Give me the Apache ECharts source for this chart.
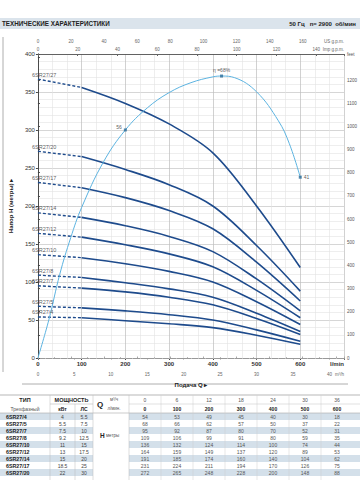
<!DOCTYPE html>
<html><head><meta charset="utf-8">
<script src="https://cdn.jsdelivr.net/npm/echarts@6/dist/echarts.min.js"></script>
<style>html,body{margin:0;padding:0;background:#fff}#c{width:360px;height:480px}</style>
</head><body><div id="c"></div>
<script>
// ---------- DATA ----------
const flowLpm = [0, 100, 200, 300, 400, 500, 600];
const flowM3h = [0, 6, 12, 18, 24, 30, 36];
const models  = ['6SR27/4','6SR27/5','6SR27/7','6SR27/8','6SR27/10','6SR27/12','6SR27/14','6SR27/17','6SR27/20','6SR27/27'];
const powerKw = ['4','5.5','7.5','9.2','11','13','15','18.5','22','30'];
const powerHp = ['5.5','7.5','10','12.5','15','17.5','20','25','30','40'];
const head4  = [54, 53, 49, 45, 40, 30, 18];
const head5  = [68, 66, 62, 57, 50, 37, 22];
const head7  = [95, 92, 87, 80, 70, 52, 31];
const head8  = [109, 106, 99, 91, 80, 59, 35];
const head10 = [136, 132, 124, 114, 100, 74, 44];
const head12 = [164, 159, 149, 137, 120, 89, 53];
const head14 = [191, 185, 174, 160, 140, 104, 62];
const head17 = [231, 224, 211, 194, 170, 126, 75];
const head20 = [272, 265, 248, 228, 200, 148, 88];
const head27 = [367, 356, 335, 308, 270, 200, 119];
const effFlow  = [0, 25, 50, 75, 100, 150, 200, 250, 300, 350, 400, 420, 450, 500, 550, 575, 600];
const effValue = [0, 9.2, 20.2, 29.0, 36.3, 47.3, 55.0, 60.3, 64.0, 66.4, 67.8, 68.0, 67.6, 64.2, 57.2, 51.7, 43.6];
const effMarkFlow  = [200, 420, 600];
const effMarkValue = [55.0, 68.0, 43.6];
const effMarkText  = ['56', 'η =68%', '41'];
const tableRows = 9; // rows of the table visible in the picture
const titleLeft  = 'ТЕХНИЧЕСКИЕ ХАРАКТЕРИСТИКИ';
const titleRight = '50 Гц   n= 2900  об/мин';
const unitLabels = {lpm: 'l/min', m3h: 'm³/h', usg: 'US g.p.m.', impg: 'Imp g.p.m.', feet: 'feet'};

// ---------- CHART ----------
const heads = [head4, head5, head7, head8, head10, head12, head14, head17, head20, head27];
const FONT = '"Liberation Sans", Arial, sans-serif';
const pumpColor = '#1e4b8c';
const effColor = '#5cb3e0';
const LPM_MAX = 700;

const series = [];
models.forEach((m, i) => {
  const h = heads[i];
  series.push({type: 'line', xAxisIndex: 0, yAxisIndex: 0, data: [[flowLpm[0], h[0]], [flowLpm[1], h[1]]],
    symbol: 'none', silent: true, z: 3, lineStyle: {color: pumpColor, width: 1.4, type: [3, 2]}});
  series.push({type: 'line', xAxisIndex: 0, yAxisIndex: 0, data: flowLpm.slice(1).map((q, j) => [q, h[j + 1]]),
    smooth: 0.35, symbol: 'none', silent: true, z: 3, lineStyle: {color: pumpColor, width: 1.6}});
});
series.push({type: 'scatter', xAxisIndex: 0, yAxisIndex: 0, silent: true, z: 5,
  data: models.map((m, i) => ({value: [flowLpm[0], heads[i][0]], name: m})),
  symbolSize: 0.1, itemStyle: {color: 'rgba(0,0,0,0)'},
  label: {show: true, formatter: p => p.name, position: 'right', distance: -6, offset: [0, -4.5],
    fontSize: 5.5, color: '#333', fontFamily: FONT}});
series.push({type: 'line', xAxisIndex: 0, yAxisIndex: 2, data: effFlow.map((q, i) => [q, effValue[i]]),
  smooth: 0.4, symbol: 'none', silent: true, z: 4, lineStyle: {color: effColor, width: 1}});
series.push({type: 'scatter', xAxisIndex: 0, yAxisIndex: 2, silent: true, z: 6,
  data: effMarkFlow.map((q, i) => ({value: [q, effMarkValue[i]],
    label: {position: i === 0 ? 'left' : (i === 1 ? 'top' : 'right'), distance: 2, offset: i === 0 ? [0, -3] : [0, 0]}})),
  symbol: 'rect', symbolSize: 3, itemStyle: {color: '#2a6c98'},
  label: {show: true, formatter: p => effMarkText[p.dataIndex], fontSize: 5, color: '#333', fontFamily: FONT}});

const lbl = (size, extra) => Object.assign({fontSize: size, color: '#444', fontFamily: FONT}, extra || {});

// ---------- HEADER + TABLE (graphic) ----------
const g = [];
g.push({type: 'rect', shape: {x: 0, y: 18, width: 360, height: 11}, style: {fill: '#dbe4ec'}});
g.push({type: 'text', x: 2, y: 23.5, style: {text: titleLeft, font: 'bold 6.3px ' + FONT, fill: '#222', verticalAlign: 'middle'}});
g.push({type: 'text', x: 356, y: 23.5, style: {text: titleRight, font: 'bold 6px ' + FONT, fill: '#222', align: 'right', verticalAlign: 'middle'}});
g.push({type: 'line', shape: {x1: 3, y1: 37, x2: 3, y2: 372}, style: {stroke: '#999', lineWidth: 0.8}});
g.push({type: 'line', shape: {x1: 22, y1: 384, x2: 348, y2: 384}, style: {stroke: '#999', lineWidth: 0.8}});

const T = {top: 395, h1: 404, h2: 413, rowH: 7, c1: 50, c2: 75, c3: 93, c4: 129, vw: 32};
for (let i = 0; i < tableRows; i++) {
  const y = T.h2 + i * T.rowH;
  if (i % 2 === 0) {
    g.push({type: 'rect', shape: {x: 0, y: y, width: T.c3, height: T.rowH}, style: {fill: '#d4e0ea'}});
    g.push({type: 'rect', shape: {x: T.c4, y: y, width: 360 - T.c4, height: T.rowH}, style: {fill: '#d4e0ea'}});
  }
}
const hl = (x1, y, x2, c) => g.push({type: 'line', shape: {x1: x1, y1: y, x2: x2, y2: y}, style: {stroke: c || '#aaa', lineWidth: 0.6}});
const vl = (x, y1, y2, c) => g.push({type: 'line', shape: {x1: x, y1: y1, x2: x, y2: y2}, style: {stroke: c || '#bbb', lineWidth: 0.5}});
hl(0, T.top, 360, '#888'); hl(0, T.h2, 360, '#aaa'); hl(T.c1, T.h1, T.c3, '#bbb'); hl(T.c4, T.h1, 360, '#ccc');
vl(T.c1, T.top, 480); vl(T.c2, T.h1, 480); vl(T.c3, T.top, 480); vl(T.c4, T.top, 480);
for (let k = 1; k < 7; k++) vl(T.c4 + k * T.vw, T.top, 480, '#ccc');
const tx = (s, x, y, font, fill, align) => g.push({type: 'text', x: x, y: y,
  style: {text: s, font: font + ' ' + FONT, fill: fill || '#444', align: align || 'center', verticalAlign: 'middle'}});
const r1 = (T.top + T.h1) / 2, r2 = (T.h1 + T.h2) / 2;
tx('ТИП', 25, r1, 'bold 5.5px', '#222');
tx('Трехфазный', 25, r2, '5px', '#555');
tx('МОЩНОСТЬ', (T.c1 + T.c3) / 2, r1, 'bold 5.5px', '#222');
tx('кВт', (T.c1 + T.c2) / 2, r2, 'bold 5px', '#222');
tx('ЛС', (T.c2 + T.c3) / 2, r2, 'bold 5px', '#222');
tx('Q', 97, (T.top + T.h2) / 2, 'bold 8px', '#222', 'left');
tx('м³/ч', 114, r1, '4.5px', '#555');
tx('л/мин.', 114, r2, '4.5px', '#555');
flowM3h.forEach((v, k) => tx(String(v), T.c4 + (k + 0.5) * T.vw, r1, '5px', '#555'));
flowLpm.forEach((v, k) => tx(String(v), T.c4 + (k + 0.5) * T.vw, r2, 'bold 5px', '#222'));
tx('H', 100, 435, 'bold 6.5px', '#222', 'left');
tx('метры', 106, 435, '4.5px', '#555', 'left');
for (let i = 0; i < tableRows; i++) {
  const y = T.h2 + (i + 0.5) * T.rowH;
  tx(models[i], 6, y, 'bold 5.3px', '#222', 'left');
  tx(powerKw[i], (T.c1 + T.c2) / 2, y, '5px', '#444');
  tx(powerHp[i], (T.c2 + T.c3) / 2, y, '5px', '#444');
  heads[i].forEach((v, k) => tx(String(v), T.c4 + (k + 0.5) * T.vw, y, '5px', '#555'));
}

const option = {
  backgroundColor: '#fff',
  animation: false,
  grid: {left: 22, right: 11, top: 54, bottom: 122, containLabel: false},
  xAxis: [
    {type: 'value', position: 'bottom', min: 0, max: LPM_MAX, interval: 100,
      axisLine: {lineStyle: {color: '#444', width: 0.8}}, axisTick: {show: true, length: 2, lineStyle: {color: '#444'}},
      axisLabel: lbl(6, {fontWeight: 'bold', color: '#333', margin: 3, alignMaxLabel: 'right',
        formatter: v => v === LPM_MAX ? unitLabels.lpm : String(v)}),
      splitLine: {show: true, lineStyle: {color: '#bdbdbd', width: 0.7}},
      minorTick: {show: false, splitNumber: 3},
      minorSplitLine: {show: true, lineStyle: {color: '#e3e3e3', width: 0.6}}},
    {type: 'value', position: 'bottom', offset: 12, min: 0, max: LPM_MAX * 0.06, interval: 5,
      axisLine: {lineStyle: {color: '#999', width: 0.6}}, axisTick: {show: true, length: 1.5, lineStyle: {color: '#999'}},
      minorTick: {show: true, splitNumber: 5, length: 1, lineStyle: {color: '#bbb'}},
      axisLabel: lbl(4.5, {color: '#666', margin: 2, alignMaxLabel: 'right',
        formatter: v => v > 41 ? unitLabels.m3h : (v % 5 === 0 ? String(v) : '')}),
      splitLine: {show: false},
      name: 'Подача Q ▸', nameLocation: 'middle', nameGap: 8,
      nameTextStyle: {fontSize: 6, fontWeight: 'bold', color: '#222', fontFamily: FONT}},
    {type: 'value', position: 'top', offset: 8.5, min: 0, max: LPM_MAX / 3.78541, interval: 20,
      axisLine: {lineStyle: {color: '#aaa', width: 0.6}}, axisTick: {show: true, length: 1.5, lineStyle: {color: '#aaa'}},
      minorTick: {show: true, splitNumber: 2, length: 1, lineStyle: {color: '#bbb'}},
      axisLabel: lbl(4.5, {color: '#666', margin: 2, alignMaxLabel: 'right',
        formatter: v => v > 181 ? unitLabels.usg : (v === 180 ? '' : String(v))}),
      splitLine: {show: false}},
    {type: 'value', position: 'top', offset: 0, min: 0, max: LPM_MAX / 4.54609, interval: 20,
      axisLine: {lineStyle: {color: '#444', width: 0.8}}, axisTick: {show: true, inside: true, length: 2, lineStyle: {color: '#666'}},
      axisLabel: lbl(4.5, {color: '#666', margin: 2, alignMaxLabel: 'right',
        formatter: v => v > 141 ? unitLabels.impg : String(v)}),
      splitLine: {show: false}}
  ],
  yAxis: [
    {type: 'value', position: 'left', min: 0, max: 400, interval: 50,
      axisLine: {show: true, lineStyle: {color: '#444', width: 0.8}}, axisTick: {show: true, length: 2, lineStyle: {color: '#444'}},
      axisLabel: lbl(6, {color: '#333', margin: 3}),
      splitLine: {show: true, lineStyle: {color: '#c4c4c4', width: 0.7}},
      minorTick: {show: false, splitNumber: 5},
      minorSplitLine: {show: true, lineStyle: {color: '#e3e3e3', width: 0.6}},
      name: 'Напор H (метры) ▸', nameLocation: 'middle', nameGap: 13, nameRotate: 90,
      nameTextStyle: {fontSize: 6, fontWeight: 'bold', color: '#222', fontFamily: FONT}},
    {type: 'value', position: 'right', min: 0, max: 400 / 0.3048, interval: 100,
      axisLine: {show: true, lineStyle: {color: '#444', width: 0.8}}, axisTick: {show: true, length: 2, lineStyle: {color: '#444'}},
      axisLabel: lbl(4.5, {color: '#555', margin: 3,
        formatter: v => v > 1301 ? unitLabels.feet : (v === 1300 ? '' : String(v))}),
      splitLine: {show: false}},
    {type: 'value', show: false, min: 0, max: 400 * 68 / 371}
  ],
  series: series,
  graphic: g
};
const chart = echarts.init(document.getElementById('c'), null, {renderer: 'svg', width: 360, height: 480});
chart.setOption(option);
</script>
</body></html>
